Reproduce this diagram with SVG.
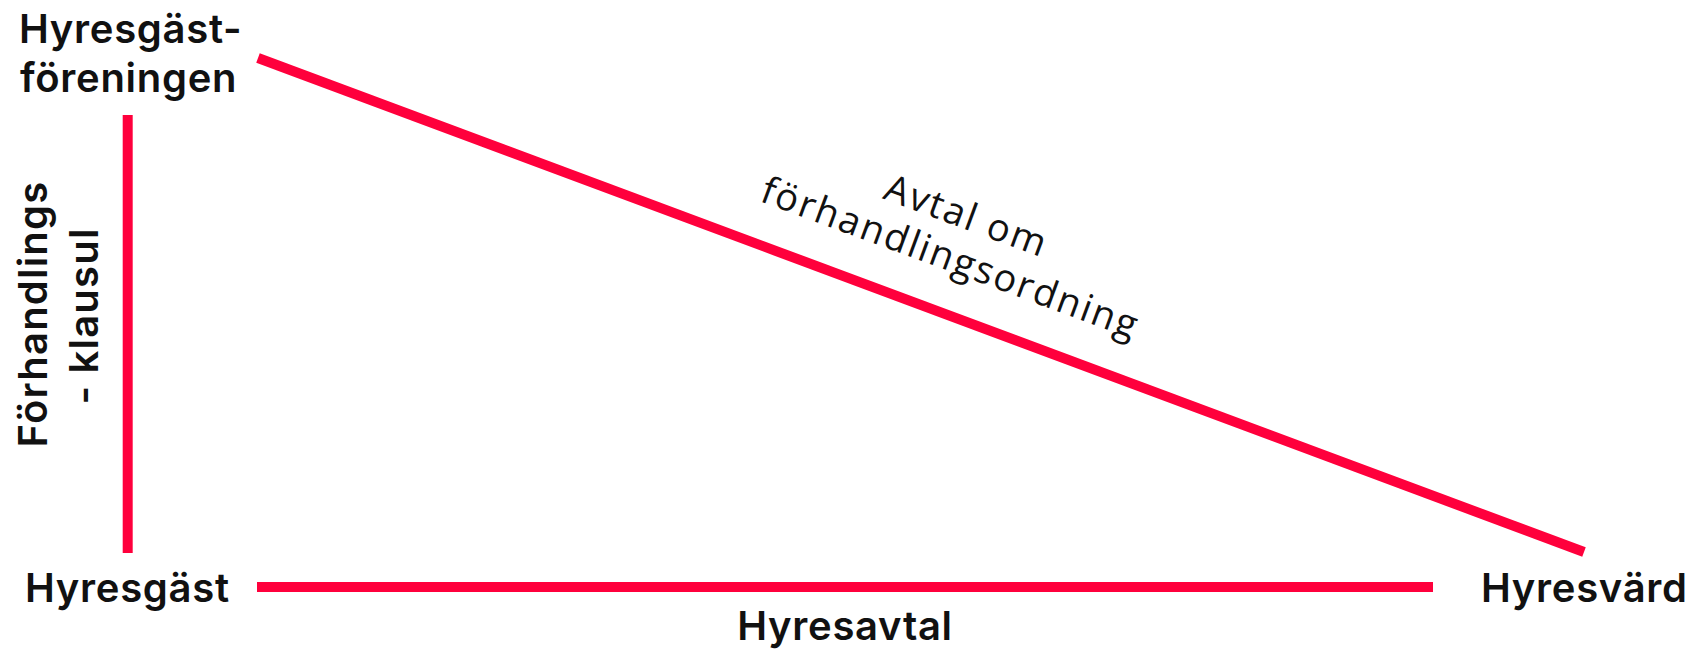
<svg xmlns="http://www.w3.org/2000/svg" width="1690" height="650" viewBox="0 0 1690 650">
  <style>
    .lbl { font-family: Inter, "Liberation Sans", sans-serif; font-weight: 600; font-size: 40px; fill: #111; letter-spacing: 0.7px; }
    .edge { stroke: #ff003c; stroke-width: 10; fill: none; stroke-linecap: butt; }
    .elbl { font-family: "Open Sans", "Liberation Sans", sans-serif; font-weight: 500; font-size: 38px; fill: #111; letter-spacing: 2px; }
  </style>
  <rect width="1690" height="650" fill="#ffffff"/>
  <g id="connectors">
    <line id="e-klausul" class="edge" x1="127.7" y1="115" x2="127.7" y2="553"/>
    <line id="e-hyresavtal" class="edge" x1="257" y1="587" x2="1433" y2="587"/>
    <line id="e-avtal" class="edge" x1="258" y1="58" x2="1584" y2="552"/>
    <text class="lbl" transform="translate(47,314) rotate(-90)" text-anchor="middle" style="letter-spacing:1.2px">Förhandlings</text>
    <text class="lbl" transform="translate(98,316) rotate(-90)" text-anchor="middle" style="letter-spacing:1.2px">- klausul</text>
    <text class="lbl" x="845" y="640" text-anchor="middle">Hyresavtal</text>
    <g transform="translate(962,228) rotate(20.3)">
      <text class="elbl" x="0" y="0" text-anchor="middle">Avtal om</text>
    </g>
    <g transform="translate(946,270) rotate(20.3)">
      <text class="elbl" x="0" y="0" text-anchor="middle">förhandlingsordning</text>
    </g>
  </g>
  <g id="node-hyresgastforeningen">
    <text class="lbl" x="19" y="43">Hyresgäst-</text>
    <text class="lbl" x="20" y="92">föreningen</text>
  </g>
  <g id="node-hyresgast">
    <text class="lbl" x="25" y="602">Hyresgäst</text>
  </g>
  <g id="node-hyresvard">
    <text class="lbl" x="1481" y="602">Hyresvärd</text>
  </g>
</svg>
